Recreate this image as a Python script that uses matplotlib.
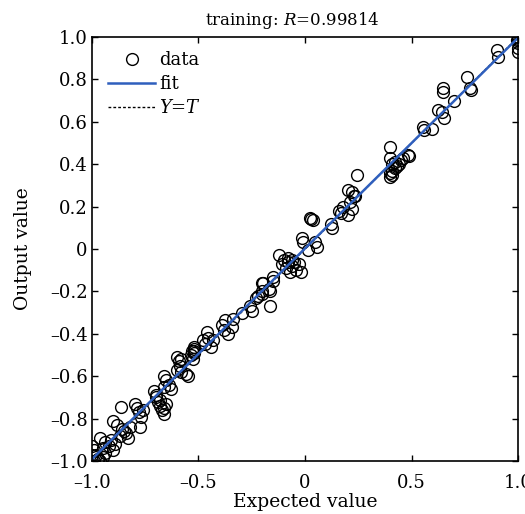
import numpy as np
import matplotlib.pyplot as plt

plt.rcParams['font.family'] = ['DejaVu Serif']
plt.rcParams['mathtext.fontset'] = 'custom'
plt.rcParams['mathtext.it'] = 'DejaVu Serif:italic'
plt.rcParams['mathtext.rm'] = 'DejaVu Serif'

# expected (target) values and network outputs
expected = [
    1.0, 1.0, 1.0, 1.0, 1.0, 0.995, 0.90, 0.906,
    0.76, 0.775, 0.78, 0.648, 0.648, 0.70, 0.625, 0.643, 0.652,
    0.554, 0.556, 0.596, 0.40, 0.49, 0.485,
    0.40, 0.41, 0.42, 0.43, 0.40, 0.41, 0.42, 0.44, 0.45, 0.46, 0.40, 0.41,
    0.244, 0.20, 0.22, 0.23, 0.21, 0.235, 0.16, 0.18, 0.20, 0.22, 0.17,
    0.127, 0.12, 0.023, 0.037, 0.03, -0.014, -0.01, 0.047, 0.056, 0.014,
    -0.12, -0.10, -0.08, -0.06, -0.04, -0.02, -0.11, -0.09, -0.07, -0.05, -0.03, -0.08, -0.06,
    -0.15, -0.15, -0.197,
    -0.20, -0.17, -0.22, -0.20, -0.165, -0.20, -0.23,
    -0.164, -0.25, -0.26, -0.296,
    -0.376, -0.343, -0.36, -0.34, -0.39, -0.38,
    -0.46, -0.455, -0.43, -0.48, -0.44, -0.47,
    -0.53, -0.535, -0.525, -0.58, -0.585,
    -0.52, -0.52, -0.52, -0.52, -0.60, -0.59,
    -0.60, -0.58, -0.56, -0.55,
    -0.66, -0.65, -0.64, -0.63, -0.66,
    -0.71, -0.70, -0.69, -0.68, -0.67, -0.66, -0.65, -0.70, -0.68, -0.66,
    -0.864, -0.80, -0.79, -0.78, -0.77, -0.76, -0.775,
    -0.90, -0.88, -0.86, -0.84, -0.83, -0.82, -0.87, -0.85,
    -0.96, -0.94, -0.92, -0.90, -0.89, -0.95, -0.91,
    -1.0, -0.99, -0.98, -0.97, -0.96, -0.95, -0.94, -0.99, -0.97, -1.0,
]
output = [
    1.0, 0.99, 0.97, 0.95, 0.93, 0.985, 0.94, 0.906,
    0.81, 0.76, 0.75, 0.76, 0.74, 0.70, 0.655, 0.646, 0.62,
    0.575, 0.56, 0.566, 0.48, 0.44, 0.445,
    0.43, 0.40, 0.38, 0.39, 0.36, 0.37, 0.41, 0.40, 0.42, 0.43, 0.34, 0.35,
    0.35, 0.28, 0.27, 0.25, 0.22, 0.25, 0.18, 0.20, 0.16, 0.19, 0.17,
    0.10, 0.12, 0.146, 0.137, 0.14, 0.05, 0.033, 0.033, 0.01, -0.005,
    -0.03, -0.05, -0.06, -0.08, -0.10, -0.11, -0.07, -0.09, -0.11, -0.06, -0.07, -0.04, -0.05,
    -0.13, -0.15, -0.16,
    -0.16, -0.19, -0.22, -0.21, -0.20, -0.20, -0.23,
    -0.27, -0.29, -0.27, -0.30,
    -0.335, -0.37, -0.40, -0.33, -0.36, -0.38,
    -0.39, -0.42, -0.43, -0.43, -0.46, -0.45,
    -0.48, -0.50, -0.52, -0.52, -0.55,
    -0.46, -0.47, -0.48, -0.49, -0.51, -0.53,
    -0.57, -0.58, -0.59, -0.60,
    -0.60, -0.62, -0.64, -0.66, -0.65,
    -0.67, -0.70, -0.72, -0.74, -0.76, -0.78, -0.73, -0.69, -0.71, -0.75,
    -0.745, -0.73, -0.75, -0.77, -0.79, -0.76, -0.84,
    -0.81, -0.83, -0.85, -0.87, -0.89, -0.84, -0.88, -0.86,
    -0.89, -0.91, -0.93, -0.95, -0.92, -0.94, -0.90,
    -0.93, -0.95, -0.97, -0.99, -1.0, -0.98, -0.96, -1.0, -0.99, -0.97,
]
r_value = 0.99814
x_ticks = [-1.0, -0.5, 0, 0.5, 1.0]
x_labels = ['\u20131.0', '\u20130.5', '0', '0.5', '1.0']
y_ticks = [-1.0, -0.8, -0.6, -0.4, -0.2, 0, 0.2, 0.4, 0.6, 0.8, 1.0]
y_labels = ['\u20131.0', '\u20130.8', '\u20130.6', '\u20130.4', '\u20130.2', '0',
            '0.2', '0.4', '0.6', '0.8', '1.0']

t = np.array(expected)
y = np.array(output)
slope, intercept = np.polyfit(t, y, 1)
line_x = np.array([-1.0, 1.0])

fig = plt.figure(figsize=(5.25, 5.14), dpi=100)
ax = fig.add_axes([0.175, 0.103, 0.812, 0.825])

ax.plot(t, y, 'o', mfc='none', mec='black', ms=8.5, mew=1.0, label='data')
ax.plot(line_x, slope * line_x + intercept, color='#2f5fbd', lw=1.8, label='fit')
ax.plot(line_x, line_x, color='black', ls='--', lw=1.0, dashes=(2, 1.5), label='$Y$=$T$',
        zorder=1)

ax.set_xlim(-1, 1)
ax.set_ylim(-1, 1)
ax.set_xticks(x_ticks)
ax.set_xticklabels(x_labels)
ax.set_yticks(y_ticks)
ax.set_yticklabels(y_labels)
ax.tick_params(direction='in', top=True, right=True, labelsize=13, length=4, width=1)
ax.tick_params(axis='x', pad=9)
ax.tick_params(axis='y', pad=3)
for s in ax.spines.values():
    s.set_linewidth(1.2)

ax.set_title('training: $R$=%.5f' % r_value, fontsize=12, pad=9, x=0.47)
ax.set_xlabel('Expected value', fontsize=13.5, labelpad=1)
ax.set_ylabel('Output value', fontsize=13.5, labelpad=13)

ax.legend(loc='upper left', frameon=False, fontsize=13, handlelength=2.6,
          handletextpad=0.2, labelspacing=0.32, borderaxespad=0.4,
          bbox_to_anchor=(0.005, 1.0))

fig.savefig('out.png', dpi=100)
